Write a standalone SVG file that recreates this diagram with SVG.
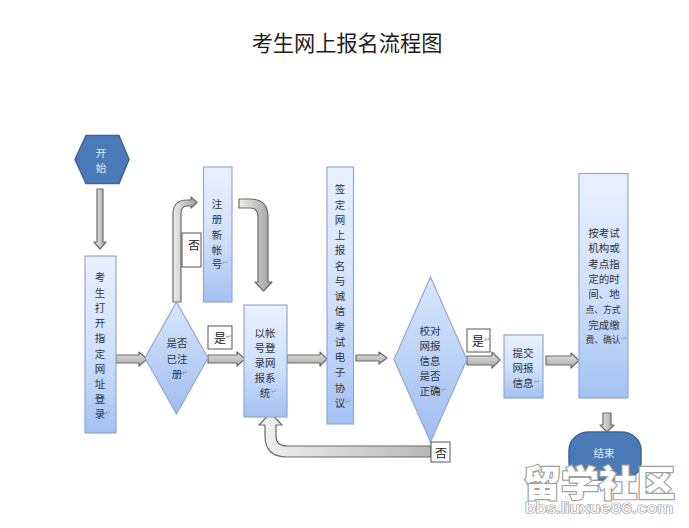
<svg xmlns="http://www.w3.org/2000/svg" width="689" height="528" viewBox="0 0 689 528">
<style>
text{font-family:"Noto Sans CJK SC","Liberation Sans",sans-serif;text-anchor:middle;dominant-baseline:central}
.t{font-size:10.5px;fill:#2c3440}
.n{font-size:8.8px;fill:#2c3440}
.w{font-size:10.5px;fill:#e8eef8}
.title{font-size:21.2px;fill:#1c1c1c}
.lbl{font-size:12px;fill:#222}
.mk{font-size:7px;fill:#8a94a8;font-family:"DejaVu Sans",sans-serif;text-anchor:start}
.box{fill:url(#boxFill);stroke:#8fabcf;stroke-width:1.2}
.dia{fill:url(#diaFill);stroke:#8fabcf;stroke-width:1.2}
.dark{fill:#4a7ab8;stroke:#3a659c;stroke-width:1.5}
.tag{fill:#fff;stroke:#555;stroke-width:1}
.arr{fill:url(#arrFill);stroke:#6b6b6b;stroke-width:1.2;stroke-linejoin:round}
.wm{fill:#fff;stroke:#a0a0a0;stroke-width:2.4;paint-order:stroke}
</style>
<defs>
<linearGradient id="boxFill" x1="0" y1="0" x2="0" y2="1"><stop offset="0" stop-color="#e9f1ff"/><stop offset="0.55" stop-color="#cfdffb"/><stop offset="1" stop-color="#a3c1f3"/></linearGradient>
<linearGradient id="diaFill" x1="0" y1="0" x2="0" y2="1"><stop offset="0" stop-color="#d9e6fc"/><stop offset="1" stop-color="#9fbdef"/></linearGradient>
<linearGradient id="arrFill" x1="0" y1="0" x2="0" y2="1"><stop offset="0" stop-color="#e4e4e2"/><stop offset="1" stop-color="#a8a8a6"/></linearGradient>
<linearGradient id="arrSide" x1="0" y1="0" x2="1" y2="0"><stop offset="0" stop-color="#ececea"/><stop offset="1" stop-color="#a0a0a0"/></linearGradient>
<linearGradient id="arrRet" x1="0" y1="0" x2="1" y2="0"><stop offset="0" stop-color="#f0f0ec"/><stop offset="1" stop-color="#b8b8b6"/></linearGradient>
</defs>
<rect width="689" height="528" fill="#fff"/>
<text class="title" x="347" y="41">考生网上报名流程图</text>

<g id="connectors">
<path class="arr" style="fill:url(#arrSide)" d="M97,189H103V242H106L100,249L94,242H97Z"/>
<path class="arr" d="M116,355H139V352L147,359L139,366V363H116Z"/>
<path class="arr" style="fill:url(#arrSide)" d="M173,302V214Q173,200 187,200H191V197L197,202.5L191,208V206H187Q181,206 181,214V302Z"/>
<path class="arr" style="fill:url(#arrSide)" d="M239,199H250Q268,199 268,217V282H272L263.5,291L255,282H258V217Q258,208 250,208H239Z"/>
<path class="arr" d="M208,355H237V352L245,359L237,366V363H208Z"/>
<path class="arr" d="M287,355H320V352L327,359L320,366V363H287Z"/>
<path class="arr" d="M356,355H379V352L387,358L379,364V361H356Z"/>
<path class="arr" d="M467,356H492V352L500,360L492,368V365H467Z"/>
<path class="arr" d="M546,356H571V353L579,360.500L571,368V365H546Z"/>
<path class="arr" style="fill:url(#arrSide)" d="M603,413H611V425H614L607,432L600,425H603Z"/>
<path class="arr" style="fill:url(#arrRet)" d="M431,446H287Q276,446 276,436V425H282L270.500,413L259,425H265V436Q265,457 287,457H431Z"/>
</g>

<g id="start"><polygon class="dark" points="75,159.500 86,135.500 119,135.500 129,159.500 119,183.500 86,183.500"/>
<text class="w" x="101" y="152">开</text><text class="w" x="101" y="167">始</text></g>

<g id="open-site"><rect class="box" x="85" y="256" width="31" height="177"/>
<text class="t" x="100" y="276">考</text><text class="t" x="100" y="292">生</text><text class="t" x="100" y="307">打</text><text class="t" x="100" y="322">开</text><text class="t" x="100" y="337">指</text><text class="t" x="100" y="353">定</text><text class="t" x="100" y="368">网</text><text class="t" x="100" y="383">址</text><text class="t" x="100" y="398">登</text><text class="t" x="100" y="413">录</text><text class="mk" x="105" y="413">↵</text></g>

<g id="registered"><polygon class="dia" points="176.500,302 208,358 176.500,414 145,358"/>
<text class="t" x="177" y="342">是否</text><text class="t" x="177" y="358">已注</text><text class="t" x="177" y="373">册</text><text class="mk" x="182" y="373">↵</text></g>

<g id="new-account"><rect class="box" x="203.500" y="167" width="28.500" height="135"/>
<text class="t" x="217" y="203">注</text><text class="t" x="217" y="218">册</text><text class="t" x="217" y="234">新</text><text class="t" x="217" y="249">帐</text><text class="t" x="217" y="263">号</text><text class="mk" x="222" y="263">↵</text></g>

<g id="tag-no-1"><rect class="tag" x="182" y="233" width="19" height="34"/><text class="lbl" x="194" y="244">否</text></g>
<g id="tag-yes-1"><rect class="tag" x="208" y="326" width="24" height="23"/><text class="lbl" x="220" y="337">是</text><text class="mk" x="226" y="337">↵</text></g>

<g id="login"><rect class="box" x="244" y="305" width="43" height="112"/>
<text class="t" x="265" y="332">以帐</text><text class="t" x="265" y="347">号登</text><text class="t" x="265" y="362">录网</text><text class="t" x="265" y="377">报系</text><text class="t" x="265" y="392">统</text><text class="mk" x="271" y="392">↵</text></g>

<g id="agreement"><rect class="box" x="327" y="167" width="26.500" height="257"/>
<text class="t" x="340" y="188">签</text><text class="t" x="340" y="204">定</text><text class="t" x="340" y="219">网</text><text class="t" x="340" y="234">上</text><text class="t" x="340" y="249">报</text><text class="t" x="340" y="265">名</text><text class="t" x="340" y="280">与</text><text class="t" x="340" y="295">诚</text><text class="t" x="340" y="310">信</text><text class="t" x="340" y="326">考</text><text class="t" x="340" y="341">试</text><text class="t" x="340" y="356">电</text><text class="t" x="340" y="371">子</text><text class="t" x="340" y="387">协</text><text class="t" x="340" y="402">议</text><text class="mk" x="345" y="402">↵</text></g>

<g id="verify"><polygon class="dia" points="430.500,277 467,359.500 430.500,442 394,359.500"/>
<text class="t" x="430" y="330">校对</text><text class="t" x="430" y="345">网报</text><text class="t" x="430" y="360">信息</text><text class="t" x="430" y="375">是否</text><text class="t" x="430" y="390">正确</text><text class="mk" x="441" y="390">↵</text></g>

<g id="tag-yes-2"><rect class="tag" x="467" y="329" width="23" height="23"/><text class="lbl" x="478" y="340">是</text><text class="mk" x="484" y="340">↵</text></g>
<g id="tag-no-2"><rect class="tag" x="431" y="442" width="19" height="20"/><text class="lbl" x="441" y="452">否</text></g>

<g id="submit"><rect class="box" x="504" y="335" width="39" height="63"/>
<text class="t" x="523" y="352">提交</text><text class="t" x="523" y="367">网报</text><text class="t" x="523" y="382">信息</text><text class="mk" x="534" y="382">↵</text></g>

<g id="payment"><rect class="box" x="579" y="173.500" width="49" height="224.500"/>
<text class="t" x="604" y="232">按考试</text><text class="t" x="604" y="247">机构或</text><text class="t" x="604" y="263">考点指</text><text class="t" x="604" y="278">定的时</text><text class="t" x="604" y="293">间、地</text><text class="n" x="603" y="309">点、方式</text><text class="t" x="604" y="324">完成缴</text><text class="n" x="603" y="339">费、确认</text><text class="mk" x="621" y="339">↵</text></g>

<g id="end"><rect class="dark" x="569" y="432" width="72" height="48" rx="20" ry="18"/>
<text class="w" x="604" y="452">结束</text></g>

<g id="site-mark">
<text class="wm" x="599" y="481" style="font-size:36px;font-weight:900" textLength="152" lengthAdjust="spacingAndGlyphs">留学社区</text>
<text class="wm" x="599" y="508" style="font-family:'Liberation Sans',sans-serif;font-size:14px;stroke-width:1.200" textLength="148" lengthAdjust="spacingAndGlyphs">bbs.liuxue86.com</text>
</g>
</svg>
